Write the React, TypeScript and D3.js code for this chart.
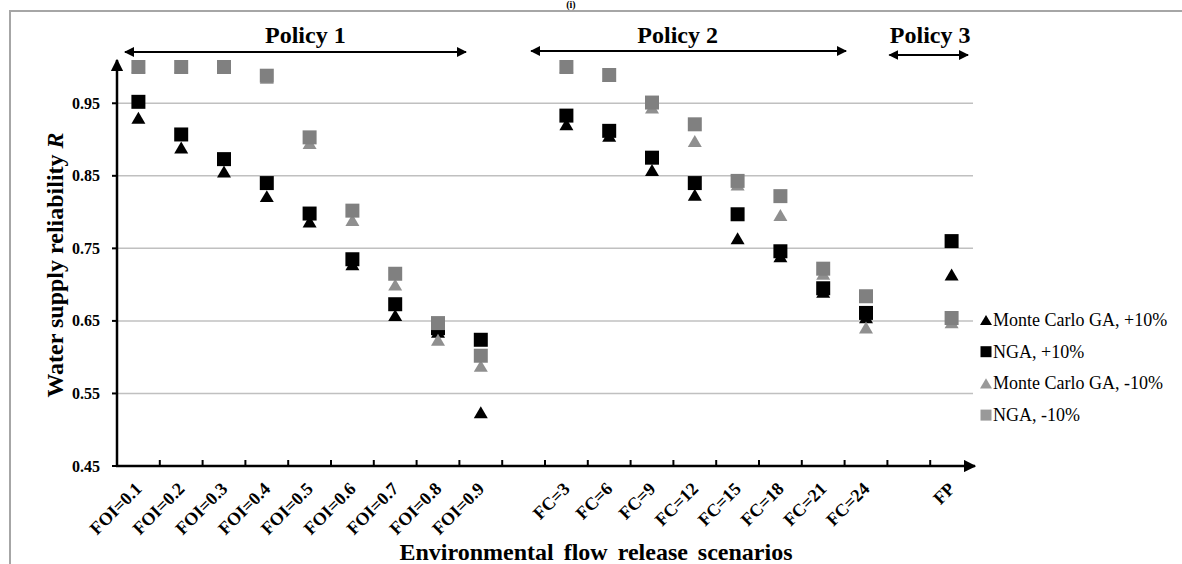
import React, { useEffect, useRef } from "react";
import { range, scaleBand, scaleLinear, select, Selection } from "d3";

const WIDTH = 1182;
const HEIGHT = 564;
const PLOT_LEFT = 117;
const PLOT_RIGHT = 973;
const PLOT_BOTTOM = 466;
const PLOT_TOP = 67;
const SERIF = "'Liberation Serif', 'Times New Roman', serif";
const GRID_COLOR = "#c0c0c0";
const BORDER_COLOR = "#a6a6a6";

// blank entries are the gaps Excel leaves between the policy groups
const categories = [
    "FOI=0.1", "FOI=0.2", "FOI=0.3", "FOI=0.4", "FOI=0.5", "FOI=0.6", "FOI=0.7", "FOI=0.8", "FOI=0.9",
    "",
    "FC=3", "FC=6", "FC=9", "FC=12", "FC=15", "FC=18", "FC=21", "FC=24",
    "",
    "FP",
];

const monteCarloPlus = [
    0.93, 0.889, 0.856, 0.822, 0.787, 0.728, 0.658, 0.635, 0.524,
    null,
    0.921, 0.905, 0.858, 0.824, 0.764, 0.739, 0.69, 0.655,
    null,
    0.714,
];
const ngaPlus = [
    0.952, 0.907, 0.873, 0.84, 0.798, 0.735, 0.673, 0.64, 0.624,
    null,
    0.933, 0.912, 0.875, 0.84, 0.797, 0.746, 0.695, 0.661,
    null,
    0.76,
];
const monteCarloMinus = [
    1.0, 1.0, 1.0, 0.985, 0.895, 0.789, 0.7, 0.624, 0.588,
    null,
    1.0, 0.988, 0.944, 0.898, 0.838, 0.796, 0.715, 0.641,
    null,
    0.648,
];
const ngaMinus = [
    1.0, 1.0, 1.0, 0.988, 0.903, 0.802, 0.715, 0.647, 0.602,
    null,
    1.0, 0.989, 0.951, 0.921, 0.843, 0.822, 0.722, 0.684,
    null,
    0.654,
];

const yTicks = [0.45, 0.55, 0.65, 0.75, 0.85, 0.95];

type Shape = "triangle" | "square";

type Series = {
    name: string;
    shape: Shape;
    color: string;
    values: (number | null)[];
};

const series: Series[] = [
    { name: "Monte Carlo GA, +10%", shape: "triangle", color: "#000000", values: monteCarloPlus },
    { name: "NGA, +10%", shape: "square", color: "#000000", values: ngaPlus },
    { name: "Monte Carlo GA, -10%", shape: "triangle", color: "#8f8f8f", values: monteCarloMinus },
    { name: "NGA, -10%", shape: "square", color: "#808080", values: ngaMinus },
];

// spans in category units (0 = left edge of first category)
const policies = [
    { label: "Policy 1", start: 0.14, end: 8.2, labelAt: 4.4, y: 52 },
    { label: "Policy 2", start: 9.63, end: 17.08, labelAt: 13.1, y: 51 },
    { label: "Policy 3", start: 18.0, end: 19.93, labelAt: 19.0, y: 55 },
];

type G = Selection<SVGGElement, unknown, null, undefined>;

const markerPath = (shape: Shape, size: number) => {
    const h = size / 2;
    if (shape === "square") return `M${-h},${-h}H${h}V${h}H${-h}Z`;
    const th = size * 0.85;
    return `M0,${-th / 2}L${h},${th / 2}L${-h},${th / 2}Z`;
};

export default function App() {
    const svgRef = useRef<SVGSVGElement>(null);

    useEffect(() => {
        const svg = select(svgRef.current);
        svg.selectAll("*").remove();

        const xScale = scaleBand<number>()
            .domain(range(categories.length))
            .range([PLOT_LEFT, PLOT_RIGHT])
            .padding(0);
        const yScale = scaleLinear().domain([0.45, 1.0]).range([PLOT_BOTTOM, PLOT_TOP]);
        const bw = xScale.bandwidth();
        const catX = (t: number) => PLOT_LEFT + t * bw;

        setupDefs(svg);

        const root = svg.append("g");

        // frame of the cropped figure
        root.append("path")
            .attr("d", `M10,${HEIGHT + 5}V11H${WIDTH + 5}`)
            .attr("fill", "none")
            .attr("stroke", BORDER_COLOR)
            .attr("stroke-width", 2);
        root.append("text")
            .attr("x", 571)
            .attr("y", 8)
            .attr("text-anchor", "middle")
            .attr("font-family", SERIF)
            .attr("font-weight", "bold")
            .attr("font-size", 10)
            .text("(i)");

        drawGrid(root, yScale);
        drawAxes(root, xScale, yScale);
        drawPoints(root, xScale, yScale);
        drawPolicies(root, catX);
        drawLegend(root);
    }, []);

    return (
        <svg
            ref={svgRef}
            width={WIDTH}
            height={HEIGHT}
            style={{ position: "absolute", left: 0, top: 0, background: "#fff" }}
        />
    );
}

const setupDefs = (svg: Selection<SVGSVGElement | null, unknown, null, undefined>) => {
    svg.append("defs")
        .append("marker")
        .attr("id", "arrow")
        .attr("viewBox", "0 0 10 10")
        .attr("refX", 9)
        .attr("refY", 5)
        .attr("markerWidth", 5)
        .attr("markerHeight", 5)
        .attr("markerUnits", "strokeWidth")
        .attr("orient", "auto-start-reverse")
        .append("path")
        .attr("d", "M0,0L10,5L0,10Z")
        .attr("fill", "#000");
};

const drawGrid = (g: G, yScale: (v: number) => number) => {
    g.append("g")
        .selectAll("line")
        .data(yTicks.filter(t => t > 0.45))
        .enter()
        .append("line")
        .attr("x1", PLOT_LEFT)
        .attr("x2", PLOT_RIGHT)
        .attr("y1", d => yScale(d))
        .attr("y2", d => yScale(d))
        .attr("stroke", GRID_COLOR)
        .attr("stroke-width", 1.5);
};

const drawAxes = (g: G, xScale: any, yScale: (v: number) => number) => {
    const axes = g.append("g");
    // y axis with arrow at the top
    axes.append("line")
        .attr("x1", PLOT_LEFT)
        .attr("x2", PLOT_LEFT)
        .attr("y1", PLOT_BOTTOM + 1)
        .attr("y2", 60)
        .attr("stroke", "#000")
        .attr("stroke-width", 2.5)
        .attr("marker-end", "url(#arrow)");
    // x axis with arrow at the right
    axes.append("line")
        .attr("x1", PLOT_LEFT - 1)
        .attr("x2", PLOT_RIGHT + 2)
        .attr("y1", PLOT_BOTTOM)
        .attr("y2", PLOT_BOTTOM)
        .attr("stroke", "#000")
        .attr("stroke-width", 2.5)
        .attr("marker-end", "url(#arrow)");

    axes.selectAll(".ytick")
        .data(yTicks)
        .enter()
        .append("line")
        .attr("x1", PLOT_LEFT - 5)
        .attr("x2", PLOT_LEFT)
        .attr("y1", d => yScale(d))
        .attr("y2", d => yScale(d))
        .attr("stroke", "#000")
        .attr("stroke-width", 2);
    axes.selectAll(".ylabel")
        .data(yTicks)
        .enter()
        .append("text")
        .attr("x", PLOT_LEFT - 17)
        .attr("y", d => yScale(d) + 5.5)
        .attr("text-anchor", "end")
        .attr("font-family", SERIF)
        .attr("font-weight", "bold")
        .attr("font-size", 16)
        .text(d => d.toFixed(2));

    // tick marks sit between categories, pointing up
    const bounds = range(1, categories.length);
    axes.selectAll(".xtick")
        .data(bounds)
        .enter()
        .append("line")
        .attr("x1", d => PLOT_LEFT + d * xScale.bandwidth())
        .attr("x2", d => PLOT_LEFT + d * xScale.bandwidth())
        .attr("y1", PLOT_BOTTOM)
        .attr("y2", PLOT_BOTTOM - 6)
        .attr("stroke", "#000")
        .attr("stroke-width", 2);

    axes.selectAll(".xlabel")
        .data(categories.map((c, i) => ({ c, i })).filter(d => d.c !== ""))
        .enter()
        .append("text")
        .attr("transform", d => {
            const cx = xScale(d.i) + xScale.bandwidth() / 2 + 4.5;
            return `translate(${cx},${PLOT_BOTTOM + 24}) rotate(-45)`;
        })
        .attr("text-anchor", "end")
        .attr("font-family", SERIF)
        .attr("font-weight", "bold")
        .attr("font-size", 18)
        .text(d => d.c);

    const yTitle = axes.append("text")
        .attr("transform", `translate(63,265) rotate(-90)`)
        .attr("text-anchor", "middle")
        .attr("font-family", SERIF)
        .attr("font-weight", "bold")
        .attr("font-size", 24);
    yTitle.append("tspan").text("Water supply reliability ");
    yTitle.append("tspan").attr("font-style", "italic").text("R");

    axes.append("text")
        .attr("x", 596)
        .attr("y", 560)
        .attr("text-anchor", "middle")
        .attr("font-family", SERIF)
        .attr("font-weight", "bold")
        .attr("font-size", 24)
        .attr("word-spacing", 4)
        .text("Environmental flow release scenarios");
};

const drawPoints = (g: G, xScale: any, yScale: (v: number) => number) => {
    series.forEach(s => {
        const pts = s.values
            .map((v, i) => ({ v, i }))
            .filter(d => d.v !== null) as { v: number; i: number }[];
        g.append("g")
            .selectAll("path")
            .data(pts)
            .enter()
            .append("path")
            .attr("d", markerPath(s.shape, 14))
            .attr("transform", d => `translate(${xScale(d.i) + xScale.bandwidth() / 2},${yScale(d.v)})`)
            .attr("fill", s.color);
    });
};

const drawPolicies = (g: G, catX: (t: number) => number) => {
    const grp = g.append("g");
    policies.forEach(p => {
        grp.append("line")
            .attr("x1", catX(p.start) + 2)
            .attr("x2", catX(p.end) - 2)
            .attr("y1", p.y)
            .attr("y2", p.y)
            .attr("stroke", "#000")
            .attr("stroke-width", 2)
            .attr("marker-start", "url(#arrow)")
            .attr("marker-end", "url(#arrow)");
        grp.append("text")
            .attr("x", catX(p.labelAt))
            .attr("y", 43)
            .attr("text-anchor", "middle")
            .attr("font-family", SERIF)
            .attr("font-weight", "bold")
            .attr("font-size", 24)
            .text(p.label);
    });
};

const drawLegend = (g: G) => {
    const legend = g.append("g").attr("transform", "translate(986,320)");
    const rows = legend
        .selectAll("g")
        .data(series)
        .enter()
        .append("g")
        .attr("transform", (_, i) => `translate(0,${i * 31.7})`);
    rows.append("path")
        .attr("d", d => markerPath(d.shape, d.shape === "square" ? 11 : 12))
        .attr("fill", d => (d.color === "#000000" ? "#000" : "#999"));
    rows.append("text")
        .attr("x", 7)
        .attr("y", 6)
        .attr("font-family", SERIF)
        .attr("font-size", 18)
        .text(d => d.name);
};
